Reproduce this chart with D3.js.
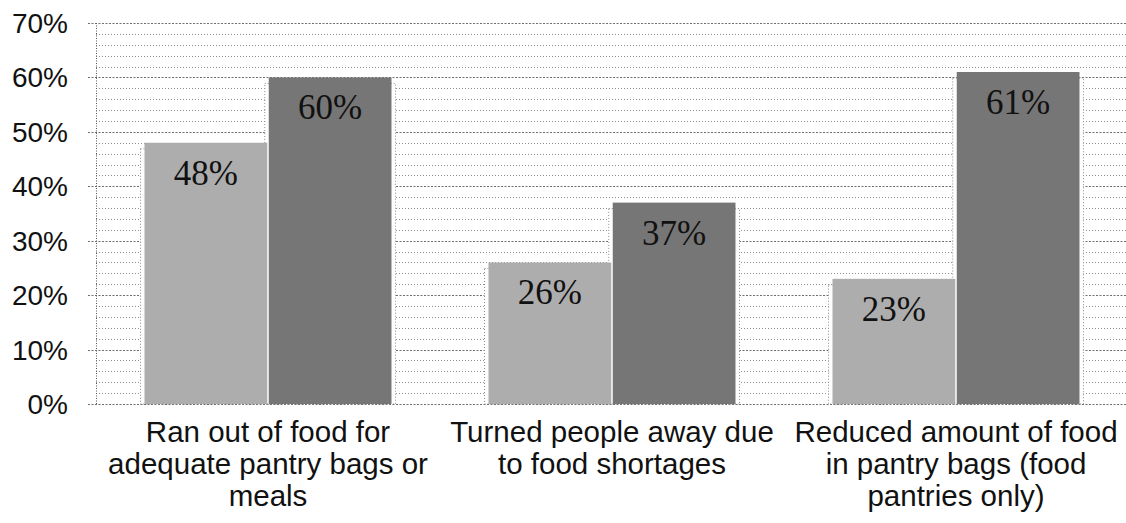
<!DOCTYPE html>
<html>
<head>
<meta charset="utf-8">
<script src="https://cdn.jsdelivr.net/npm/d3@7"></script>
<style>
  html, body { margin: 0; padding: 0; background: #fff; }
  svg { display: block; }
</style>
</head>
<body>
<svg id="chart" width="1126" height="523"></svg>
<script>
// Categories (wrapped label lines) and the two series of percentages
const categories = [
  ["Ran out of food for", "adequate pantry bags or", "meals"],
  ["Turned people away due", "to food shortages"],
  ["Reduced amount of food", "in pantry bags (food", "pantries only)"]
];
const seriesA = [48, 26, 23];
const seriesB = [60, 37, 61];
const yTicks = [0, 10, 20, 30, 40, 50, 60, 70];
const yMinorTicks = [2,4,6,8,12,14,16,18,22,24,26,28,32,34,36,38,42,44,46,48,52,54,56,58,62,64,66,68];

const svg = d3.select("#chart");
const plotLeft = 96, plotRight = 1128, plotTop = 23, plotBottom = 404;

const x = d3.scaleBand().domain(d3.range(categories.length)).range([plotLeft, plotRight])
  .paddingInner(0.282).paddingOuter(0.141);
const xs = d3.scaleBand().domain([0, 1]).range([0, x.bandwidth()]).paddingInner(0.012);
const y = d3.scaleLinear().domain([0, 70]).range([plotBottom, plotTop]);

// minor gridlines
svg.append("g").selectAll("line").data(yMinorTicks).join("line")
  .attr("x1", plotLeft).attr("x2", 1126)
  .attr("y1", d => Math.round(y(d)) + 0.5).attr("y2", d => Math.round(y(d)) + 0.5)
  .attr("stroke", "#8f8f8f").attr("stroke-width", 1).attr("stroke-dasharray", "1,2");

// major gridlines with small ticks to the left of the axis
svg.append("g").selectAll("line").data(yTicks).join("line")
  .attr("x1", plotLeft - 8).attr("x2", 1126)
  .attr("y1", d => Math.round(y(d)) + 0.5).attr("y2", d => Math.round(y(d)) + 0.5)
  .attr("stroke", "#6e6e6e").attr("stroke-width", 1.2).attr("stroke-dasharray", "2,1.5");

// vertical axis line
svg.append("line")
  .attr("x1", plotLeft + 0.5).attr("x2", plotLeft + 0.5).attr("y1", y(70)).attr("y2", y(0))
  .attr("stroke", "#555").attr("stroke-dasharray", "1,1.5");

// y tick labels
svg.append("g").selectAll("text").data(yTicks).join("text")
  .attr("x", 68).attr("y", d => y(d) + 10)
  .attr("text-anchor", "end")
  .attr("font-family", "Liberation Sans, Arial, sans-serif")
  .attr("font-size", 28).attr("fill", "#111")
  .text(d => d + "%");

const colors = ["#adadad", "#767676"];
const rows = categories.map((c, i) => ({ i, vals: [seriesA[i], seriesB[i]] }));

const groups = svg.append("g").selectAll("g").data(rows).join("g")
  .attr("transform", d => `translate(${x(d.i)},0)`);

// dotted outlines around each bar
groups.selectAll("rect.outline").data(d => d.vals).join("rect")
  .attr("class", "outline")
  .attr("x", (d, j) => xs(j) - 4).attr("y", d => y(d) + 6)
  .attr("width", xs.bandwidth() + 8).attr("height", d => y(0) - y(d) - 6)
  .attr("fill", "#fff").attr("stroke", "#8a8a8a").attr("stroke-dasharray", "1,2");

groups.selectAll("rect.bar").data(d => d.vals).join("rect")
  .attr("class", "bar")
  .attr("x", (d, j) => xs(j)).attr("y", d => y(d))
  .attr("width", xs.bandwidth()).attr("height", d => y(0) - y(d))
  .attr("fill", (d, j) => colors[j]);

// value labels inside the bar tops
groups.selectAll("text.val").data(d => d.vals).join("text")
  .attr("class", "val")
  .attr("x", (d, j) => xs(j) + xs.bandwidth() / 2).attr("y", d => y(d) + 42)
  .attr("text-anchor", "middle")
  .attr("font-family", "Liberation Serif, Times New Roman, serif")
  .attr("font-size", 35).attr("fill", "#111")
  .text(d => d + "%");

// category labels
const cat = svg.append("g").selectAll("text").data(categories).join("text")
  .attr("text-anchor", "middle")
  .attr("font-family", "Liberation Sans, Arial, sans-serif")
  .attr("font-size", 29.5).attr("fill", "#111")
  .attr("transform", (d, i) => `translate(${x(i) + x.bandwidth() / 2},442)`);
cat.selectAll("tspan").data(d => d).join("tspan")
  .attr("x", 0).attr("dy", (d, k) => k === 0 ? 0 : 32)
  .text(d => d);
</script>
</body>
</html>
